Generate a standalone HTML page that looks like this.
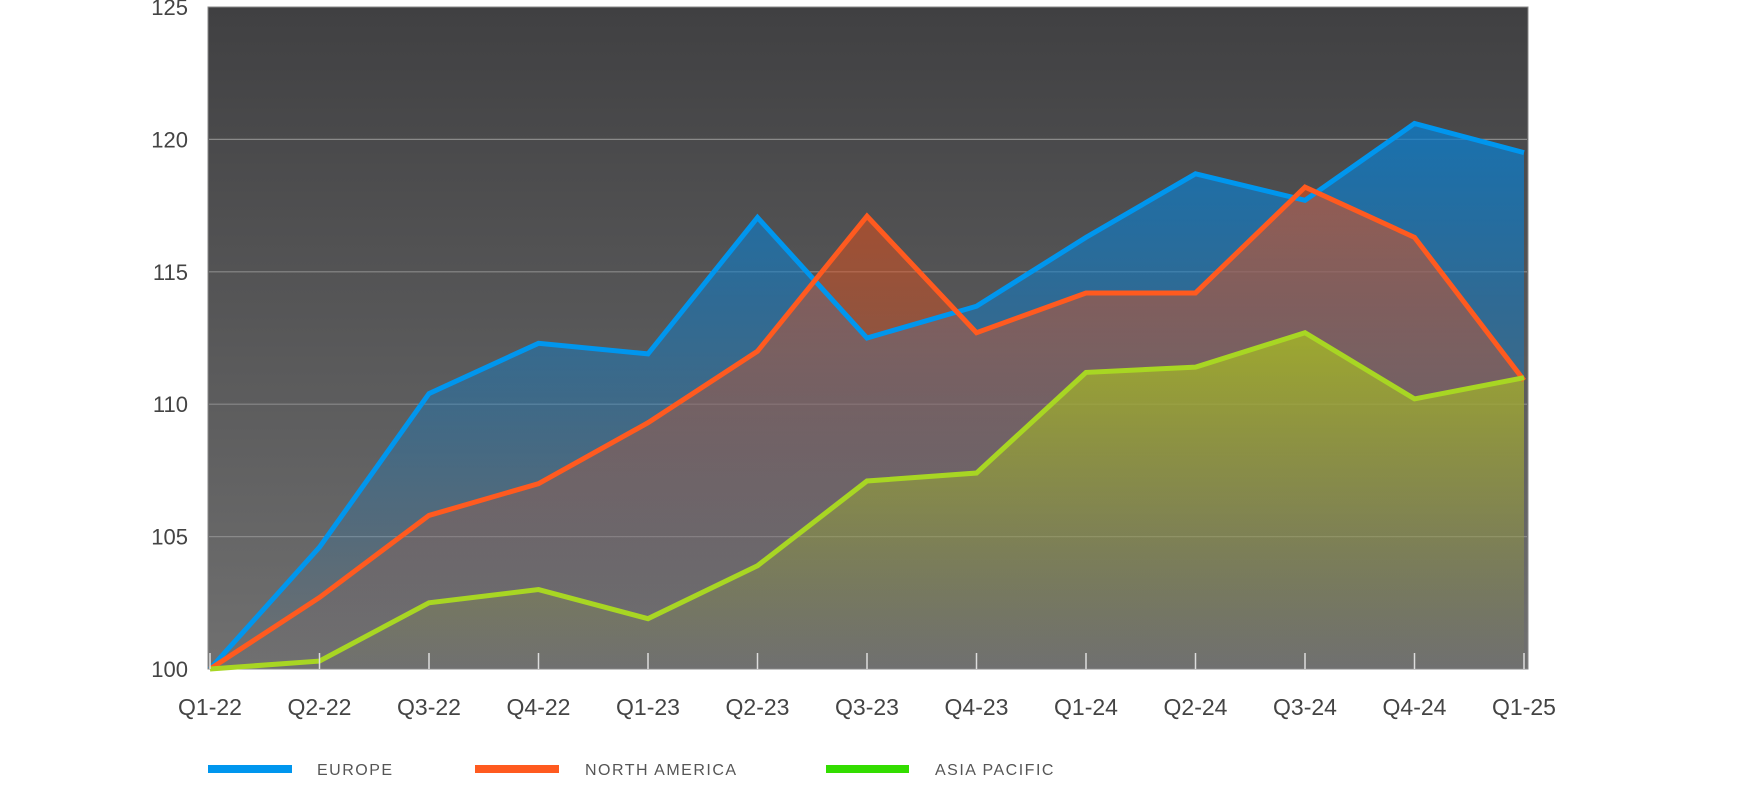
<!DOCTYPE html>
<html><head><meta charset="utf-8"><style>
html,body{margin:0;padding:0;background:#fff;}
svg{display:block;font-family:"Liberation Sans",sans-serif;}
</style></head><body>
<svg id="chart" width="1745" height="793" viewBox="0 0 1745 793">
<defs>
<linearGradient id="bg" x1="0" y1="0" x2="0" y2="1"><stop offset="0" stop-color="#404042"/><stop offset="1" stop-color="#707070"/></linearGradient>
<linearGradient id="gEU" x1="0" y1="0" x2="0" y2="1"><stop offset="0" stop-color="#0a7fd0" stop-opacity="0.75"/><stop offset="1" stop-color="#0a7fd0" stop-opacity="0"/></linearGradient>
<linearGradient id="gNA" x1="0" y1="0" x2="0" y2="1"><stop offset="0" stop-color="#e0501c" stop-opacity="0.6"/><stop offset="1" stop-color="#e0501c" stop-opacity="0"/></linearGradient>
<linearGradient id="gAP" x1="0" y1="0" x2="0" y2="1"><stop offset="0" stop-color="#a8c020" stop-opacity="0.75"/><stop offset="1" stop-color="#a8c020" stop-opacity="0"/></linearGradient>
</defs>
<rect x="208" y="7" width="1320" height="662" fill="url(#bg)" stroke="#888" stroke-width="1"/>
<g id="grid"></g><g id="areas"></g><g id="lines"></g><g id="axes"></g>
<g font-size="16" fill="#555" letter-spacing="1.5">
<rect x="208" y="765" width="84" height="8" fill="#0096ee"/>
<text x="317" y="775">EUROPE</text>
<rect x="475" y="765" width="84" height="8" fill="#ff5a1f"/>
<text x="585" y="775">NORTH AMERICA</text>
<rect x="826" y="765" width="83" height="8" fill="#33dd00"/>
<text x="935" y="775">ASIA PACIFIC</text>
</g>
</svg>
<script>
const categories=["Q1-22","Q2-22","Q3-22","Q4-22","Q1-23","Q2-23","Q3-23","Q4-23","Q1-24","Q2-24","Q3-24","Q4-24","Q1-25"];
const europe=[100,104.6,110.4,112.3,111.9,117.05,112.5,113.7,116.3,118.7,117.7,120.6,119.5];
const northAmerica=[100,102.7,105.8,107.0,109.3,112.0,117.1,112.7,114.2,114.2,118.2,116.3,110.9];
const asiaPacific=[100,100.3,102.5,103.0,101.9,103.9,107.1,107.4,111.2,111.4,112.7,110.2,111.0];
const yTicks=[100,105,110,115,120,125];
const NS="http://www.w3.org/2000/svg";
const x0=210,x1=1524,yTop=7,yBot=669,vMin=100,vMax=125;
const xs=i=>x0+i*(x1-x0)/(categories.length-1);
const ys=v=>yBot-(v-vMin)/(vMax-vMin)*(yBot-yTop);
function mk(t,a,p){const e=document.createElementNS(NS,t);for(const k in a)e.setAttribute(k,a[k]);p.appendChild(e);return e;}
const grid=document.getElementById('grid'),axes=document.getElementById('axes');
yTicks.forEach(v=>{
 if(v>vMin&&v<vMax){const l=mk('line',{x1:209,x2:1527,y1:ys(v),y2:ys(v),stroke:'#8a8a8a','stroke-width':1.2},grid);
 
 }
 const t=mk('text',{x:188,y:ys(v)+8,'text-anchor':'end','font-size':22,fill:'#444'},axes);t.textContent=v;
 
 
});
categories.forEach((c,i)=>{
 const tk=mk('line',{x1:xs(i),x2:xs(i),y1:yBot-16,y2:yBot,stroke:'#ddd','stroke-width':1.5},axes);
 
 
 const t=mk('text',{x:xs(i),y:715,'text-anchor':'middle','font-size':23,fill:'#444'},axes);t.textContent=c;
 
 
});
const series=[["europe",europe,"#0096ee","url(#gEU)"],["north-america",northAmerica,"#ff5a1f","url(#gNA)"],["asia-pacific",asiaPacific,"#a8d623","url(#gAP)"]];
const areas=document.getElementById('areas'),lines=document.getElementById('lines');
series.forEach(([n,d,c,g])=>{
 const pts=d.map((v,i)=>xs(i)+","+ys(v)).join(" ");
 const a=mk('polygon',{points:x0+","+yBot+" "+pts+" "+x1+","+yBot,fill:g},areas);
 
 
});
series.forEach(([n,d,c])=>{
 const pts=d.map((v,i)=>xs(i)+","+ys(v)).join(" ");
 const l=mk('polyline',{points:pts,fill:'none',stroke:c,'stroke-width':5,'stroke-linejoin':'miter'},lines);
 
 
});
</script>
</body></html>
